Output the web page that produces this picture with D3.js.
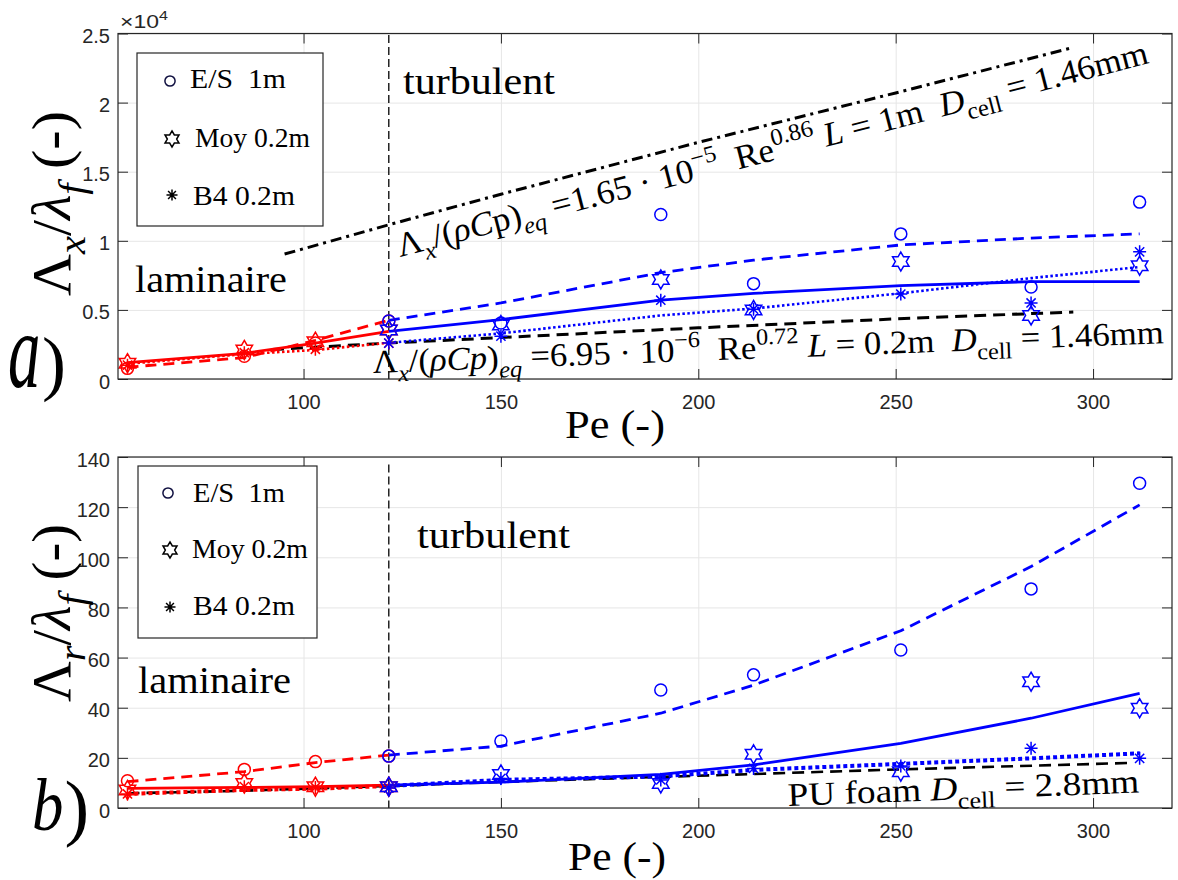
<!DOCTYPE html>
<html><head><meta charset="utf-8">
<script src="https://cdn.jsdelivr.net/npm/d3@7"></script>
<style>body{margin:0;background:#fff}svg{display:block}</style>
</head><body>
<svg id="chart" width="1178" height="880"></svg>
<script>
// ---------- data ----------
const peValues = [55.4, 85, 103, 121.6, 150, 190.5, 214, 251.3, 284.3, 311.8];
const peTransition = 121.6;
const xTicks = [100, 150, 200, 250, 300];
const xTickLabels = ["100", "150", "200", "250", "300"];
const xDomain = [53, 320];

// panel a) Λx/λf (×10^4)
const aYTicks = [0, 0.5, 1, 1.5, 2, 2.5];
const aYTickLabels = ["0", "0.5", "1", "1.5", "2", "2.5"];
const aES  = [0.077, 0.165, 0.26, 0.42, 0.405, 1.19, 0.69, 1.05, 0.665, 1.28];
const aMoy = [0.114, 0.21, 0.27, 0.355, 0.39, 0.72, 0.50, 0.85, 0.46, 0.82];
const aB4  = [0.10, 0.19, 0.215, 0.26, 0.31, 0.57, 0.505, 0.615, 0.55, 0.92];
const aESfit  = [0.085, 0.155, 0.28, 0.425, 0.55, 0.77, 0.86, 0.97, 1.02, 1.05];
const aMoyFit = [0.118, 0.186, 0.259, 0.345, 0.43, 0.57, 0.62, 0.675, 0.705, 0.705];
const aB4Fit  = [0.11, 0.18, 0.21, 0.262, 0.33, 0.46, 0.51, 0.62, 0.73, 0.81];
const corrUpperPe = [95.2, 121.6, 150, 200, 250, 294.6];
const corrUpper   = [0.904, 1.116, 1.337, 1.712, 2.07, 2.396];
const corrLowerPe = [92, 121.6, 150, 200, 250, 295];
const corrLower   = [0.213, 0.26, 0.30, 0.37, 0.435, 0.485];

// panel b) Λr/λf
const bYTicks = [0, 20, 40, 60, 80, 100, 120, 140];
const bYTickLabels = ["0", "20", "40", "60", "80", "100", "120", "140"];
const bES  = [10.9, 15.4, 18.5, 20.7, 26.7, 47.1, 53.1, 63.0, 87.4, 129.5];
const bMoy = [7.2, 9.8, 8.5, 8.5, 13.4, 9.8, 21.4, 14.5, 50.4, 39.8];
const bB4  = [5.6, 8.5, 8.2, 8.0, 11.8, 11.2, 15.8, 16.8, 23.8, 19.8];
const bESfit  = [10.5, 14.5, 18.1, 21.1, 24.7, 37.8, 49.0, 70.7, 96.3, 120.9];
const bMoyFit = [7.85, 8.2, 8.5, 9.1, 10.3, 13.4, 17.2, 25.8, 35.8, 45.7];
const bB4Fit  = [5.6, 7.2, 7.7, 8.8, 11.2, 12.6, 15.2, 17.6, 19.8, 21.8];
const corrPUPe = [55.4, 85, 121.6, 150, 190.5, 251.3, 310];
const corrPU   = [5.85, 6.9, 8.8, 10.4, 12.4, 15.4, 18.0];

const legendLabels = ["E/S  1m", "Moy 0.2m", "B4 0.2m"];

// ---------- setup ----------
const serif = "'Liberation Serif','Times New Roman',serif";
const sans = "'Liberation Sans',Arial,Helvetica,sans-serif";
const svg = d3.select("#chart");
const LEFT = 118, RIGHT = 1172;
const x = d3.scaleLinear().domain(xDomain).range([LEFT, RIGHT]);
const BLUE = "#0000ff", RED = "#ff0000", AX = "#262626";

function hexPath(R) {
  const r = R / Math.sqrt(3);
  const pts = d3.range(12).map(k => {
    const a = (-90 + k * 30) * Math.PI / 180, rad = k % 2 ? r : R;
    return [rad * Math.cos(a), rad * Math.sin(a)];
  });
  return "M" + pts.map(p => p.join(",")).join("L") + "Z";
}
function astPath(R) {
  const d = R * Math.SQRT1_2;
  return `M0,${-R}V${R}M${-R},0H${R}M${-d},${-d}L${d},${d}M${-d},${d}L${d},${-d}`;
}
function marker(g, type, cx, cy, color, s = 1) {
  if (type === "circle") g.append("circle").attr("cx", cx).attr("cy", cy).attr("r", 6 * s)
    .attr("fill", "none").attr("stroke", color).attr("stroke-width", 1.5);
  else if (type === "hex") g.append("path").attr("d", hexPath(9.5 * s)).attr("transform", `translate(${cx},${cy})`)
    .attr("fill", "none").attr("stroke", color).attr("stroke-width", 1.5).attr("stroke-linejoin", "miter");
  else g.append("path").attr("d", astPath(6.5 * s)).attr("transform", `translate(${cx},${cy})`)
    .attr("fill", "none").attr("stroke", color).attr("stroke-width", 1.5);
}

function richText(g, segs, fs, family) {
  const t = g.append("text").attr("font-family", family).attr("font-size", fs)
    .attr("fill", "#000").style("white-space", "pre");
  let cur = 0;
  segs.forEach(s => {
    const shift = s.sub ? 0.28 * fs : s.sup ? -0.42 * fs : 0;
    const ts = t.append("tspan").attr("dy", shift - cur).text(s.t);
    cur = shift;
    if (s.sub || s.sup) ts.attr("font-size", fs * 0.7);
    if (s.it) ts.attr("font-style", "italic");
  });
  return t;
}
function placeText(segs, o) {
  const g = svg.append("g");
  const t = richText(g, segs, o.fs, o.family || serif);
  const w = t.node().getComputedTextLength();
  const sx = o.w ? o.w / w : 1;
  g.attr("transform", `translate(${o.x},${o.y}) rotate(${o.angle || 0}) scale(${sx},1)`);
  return g;
}
const N = t => ({ t }), I = t => ({ t, it: true }), SB = (t, it) => ({ t, sub: true, it }), SP = t => ({ t, sup: true });

function panel(cfg) {
  const { y, top, bottom } = cfg;
  const W = RIGHT - LEFT, H = bottom - top;
  // grid
  svg.append("g").attr("transform", `translate(0,${bottom})`)
    .call(d3.axisBottom(x).tickValues(xTicks).tickSize(-H).tickFormat(""))
    .call(g => { g.select(".domain").remove(); g.selectAll("line").attr("stroke", "#e6e6e6"); });
  svg.append("g").attr("transform", `translate(${LEFT},0)`)
    .call(d3.axisLeft(y).tickValues(cfg.yTicks).tickSize(-W).tickFormat(""))
    .call(g => { g.select(".domain").remove(); g.selectAll("line").attr("stroke", "#e6e6e6"); });

  // transition line
  svg.append("line").attr("x1", x(peTransition)).attr("x2", x(peTransition))
    .attr("y1", y(cfg.vTop)).attr("y2", bottom)
    .attr("stroke", "#000").attr("stroke-width", 1.3).attr("stroke-dasharray", "8,4");

  const plot = svg.append("g");
  const line = d3.line().x(d => x(d[0])).y(d => y(d[1]));
  const draw = (pts, color, width, dash) => plot.append("path").attr("d", line(pts))
    .attr("fill", "none").attr("stroke", color).attr("stroke-width", width)
    .attr("stroke-dasharray", dash).attr("stroke-linejoin", "round");
  const zip = (xs, ys) => xs.map((v, i) => [v, ys[i]]);

  cfg.corr.forEach(c => draw(zip(c.pe, c.v), "#000", c.w, c.dash));

  const lam = a => zip(peValues.slice(0, 4), a.slice(0, 4));
  const turb = a => zip(peValues.slice(3), a.slice(3));
  [[RED, lam], [BLUE, turb]].forEach(([col, f]) => {
    draw(f(cfg.esFit), col, 2.8, "11,7");
    draw(f(cfg.moyFit), col, 2.8, null);
    draw(f(cfg.b4Fit), col, cfg.dotW, cfg.dotDash);
  });

  // markers
  const mk = (arr, type, i0, i1, col) => peValues.slice(i0, i1).forEach((p, k) =>
    marker(plot, type, x(p), y(arr[i0 + k]), col));
  [[0, 4, RED], [3, 10, BLUE]].forEach(([i0, i1, col]) => {
    mk(cfg.es, "circle", i0, i1, col);
    mk(cfg.moy, "hex", i0, i1, col);
    mk(cfg.b4, "ast", i0, i1, col);
  });

  // axes (ticks inside on all four sides)
  const style = g => {
    g.select(".domain").remove();
    g.selectAll("line").attr("stroke", AX);
    g.selectAll("text").attr("font-family", sans).attr("font-size", 20).attr("fill", AX);
  };
  svg.append("g").attr("transform", `translate(0,${bottom})`)
    .call(d3.axisBottom(x).tickValues(xTicks).tickSize(-10).tickPadding(16)
      .tickFormat((d, i) => xTickLabels[i])).call(style);
  svg.append("g").attr("transform", `translate(0,${top})`)
    .call(d3.axisTop(x).tickValues(xTicks).tickSize(-10).tickFormat("")).call(style);
  svg.append("g").attr("transform", `translate(${LEFT},0)`)
    .call(d3.axisLeft(y).tickValues(cfg.yTicks).tickSize(-10).tickPadding(8)
      .tickFormat((d, i) => cfg.yTickLabels[i])).call(style)
    .call(g => g.selectAll("text").attr("dy", "0.45em"));
  svg.append("g").attr("transform", `translate(${RIGHT},0)`)
    .call(d3.axisRight(y).tickValues(cfg.yTicks).tickSize(-10).tickFormat("")).call(style);
  svg.append("rect").attr("x", LEFT).attr("y", top).attr("width", W).attr("height", H)
    .attr("fill", "none").attr("stroke", AX).attr("stroke-width", 1.2);

  // legend
  const L = cfg.legend;
  svg.append("rect").attr("x", L.x).attr("y", L.y).attr("width", L.w).attr("height", L.h)
    .attr("fill", "#fff").attr("stroke", AX).attr("stroke-width", 1.2);
  const lg = svg.append("g");
  ["circle", "hex", "ast"].forEach((t, i) => {
    marker(lg, t, L.mx[i], L.my[i], i === 0 ? "#101040" : "#000", 0.85);
    placeText([N(legendLabels[i])], { x: L.tx[i], y: L.ty[i], w: L.tw[i], fs: 28 });
  });
}

const yA = d3.scaleLinear().domain([0, 2.5]).range([379, 33.5]);
const yB = d3.scaleLinear().domain([0, 140]).range([808, 457]);

panel({
  y: yA, top: 33.5, bottom: 379, yTicks: aYTicks, yTickLabels: aYTickLabels, vTop: 2.49,
  es: aES, moy: aMoy, b4: aB4, esFit: aESfit, moyFit: aMoyFit, b4Fit: aB4Fit,
  dotW: 2.6, dotDash: "2.5,2.5",
  corr: [
    { pe: corrUpperPe, v: corrUpper, w: 3, dash: "11,5,3,5" },
    { pe: corrLowerPe, v: corrLower, w: 3, dash: "12,7" }
  ],
  legend: { x: 137, y: 53, w: 186, h: 173, mx: [170, 172, 172], my: [81, 139, 195],
    tx: [190, 195, 193], ty: [88, 147, 205], tw: [96, 115, 102] }
});
panel({
  y: yB, top: 457, bottom: 808, yTicks: bYTicks, yTickLabels: bYTickLabels, vTop: 137,
  es: bES, moy: bMoy, b4: bB4, esFit: bESfit, moyFit: bMoyFit, b4Fit: bB4Fit,
  dotW: 4, dotDash: "4,3",
  corr: [{ pe: corrPUPe, v: corrPU, w: 2.6, dash: "12,7" }],
  legend: { x: 138, y: 466, w: 179, h: 172, mx: [168, 170, 170], my: [493, 550, 607],
    tx: [193, 192, 193], ty: [502, 558, 615], tw: [92, 116, 102] }
});

// ---------- annotations ----------
placeText([N("turbulent")], { x: 403, y: 94, w: 152, fs: 38 });
placeText([N("laminaire")], { x: 135, y: 292, w: 152, fs: 38 });
placeText([N("turbulent")], { x: 417, y: 548, w: 153, fs: 38 });
placeText([N("laminaire")], { x: 138, y: 693, w: 153, fs: 38 });

placeText([N("Λ"), SB("x", true), N("/("), I("ρC"), N("p"), N(")"), SB("eq", true),
  N(" =1.65 · 10"), SP("−5"), N("  Re"), SP("0.86"), N(" "), I("L"), N(" = 1m  "),
  I("D"), SB("cell"), N(" = 1.46mm")], { x: 400, y: 257, w: 775, angle: -14.5, fs: 34 });
placeText([N("Λ"), SB("x", true), N("/("), I("ρCp"), N(")"), SB("eq", true),
  N(" =6.95 · 10"), SP("−6"), N("  Re"), SP("0.72"), N(" "), I("L"), N(" = 0.2m  "),
  I("D"), SB("cell"), N(" = 1.46mm")], { x: 373, y: 373, w: 792, angle: -2.15, fs: 33 });
placeText([N("PU foam "), I("D"), SB("cell"), N(" = 2.8mm")], { x: 788, y: 806, w: 352, angle: -2.2, fs: 33 });

// axis titles
placeText([N("Pe (-)")], { x: 565, y: 438, w: 100, fs: 40 });
placeText([N("Pe (-)")], { x: 568, y: 870, w: 98, fs: 40 });
placeText([N("Λ"), SB("x", true), N("/"), I("λ"), SB("f", true), N(" (-)")], { x: 70, y: 296, w: 185, angle: -90, fs: 54 });
placeText([N("Λ"), SB("r", true), N("/"), I("λ"), SB("f", true), N(" (-)")], { x: 70, y: 702, w: 178, angle: -90, fs: 54 });

// exponent
placeText([N("×10"), SP("4")], { x: 120, y: 28, w: 48, fs: 18, family: sans }).select("text").attr("fill", AX);

// panel letters
svg.append("text").attr("font-family", serif).attr("font-style", "italic").attr("font-size", 72)
  .attr("transform", "translate(8,387) scale(0.9,1.5)").text("a");
svg.append("text").attr("font-family", serif).attr("font-size", 72).attr("x", 42).attr("y", 387).text(")");
svg.append("text").attr("font-family", serif).attr("font-style", "italic").attr("font-size", 74)
  .attr("transform", "translate(32,830) scale(0.85,1)").text("b");
svg.append("text").attr("font-family", serif).attr("font-size", 74).attr("x", 64.5).attr("y", 832).text(")");
</script>
</body></html>
